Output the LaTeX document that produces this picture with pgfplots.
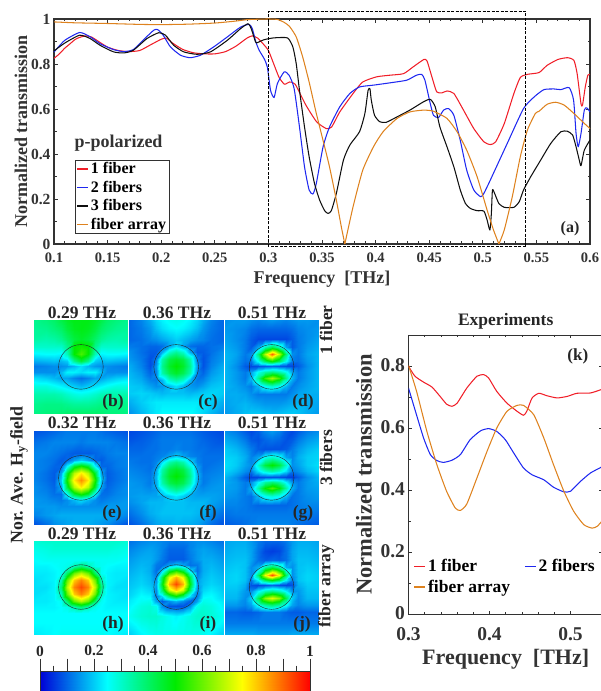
\documentclass[border=0pt]{standalone}
\usepackage{fontspec}
\setmainfont{Liberation Serif}
\usepackage{pgfplots}
\pgfplotsset{compat=1.18}
\definecolor{cRed}{RGB}{240,30,40}
\definecolor{cBlue}{RGB}{30,40,240}
\definecolor{cBlk}{RGB}{15,15,15}
\definecolor{cOr}{RGB}{222,130,30}
\definecolor{cAx}{RGB}{50,50,50}
\pgfplotsset{
 colormap={fieldjet}{rgb255(0)=(0,0,215) rgb255(25)=(0,255,255) rgb255(50)=(0,235,0) rgb255(75)=(255,255,0) rgb255(100)=(255,0,0)},
 lineplot/.style={line width=1.05pt,smooth,tension=0.35,no marks,line join=round},
 leg/.style={legend image code/.code={\path[draw=#1,line width=1.5pt] (0pt,0pt) -- (11pt,0pt);}},
}
\newcommand{\fs}[1]{\fontsize{#1}{#1}\selectfont\bfseries}
% x pos, y pos, circle centre y (axis units), row positions, values
\newcommand{\panel}[5]{%
\begin{axis}[at={(#1pt,#2pt)},anchor=south west,scale only axis,width=93.8pt,height=93.6pt,
 xmin=0,xmax=12,ymin=0,ymax=12,hide axis,colormap name=fieldjet,point meta min=0,point meta max=100,clip=true]
\addplot[surf,shader=interp,mesh/cols=13,point meta=explicit,
 x filter/.code={\edef\pgfmathresult{\ifcase\numexpr\coordindex-13*((\coordindex-6)/13)\relax 0\or 1.5\or 2.6\or 3.4\or 4.2\or 5.1\or 6\or 6.9\or 7.8\or 8.6\or 9.4\or 10.5\or 12\fi}},
 y filter/.code={\edef\pgfmathresult{\ifcase\numexpr(\coordindex-6)/13\relax #4\fi}}]
 table[row sep=\\,header=false,x index=0,y index=0,meta index=0]{#5};
\draw[black!85,line width=0.4pt] (axis cs:6,#3) circle [radius=22.3pt];
\end{axis}}
\begin{document}
\begin{tikzpicture}[x=1pt,y=1pt]
\useasboundingbox (0,0) rectangle (601,691);
\clip (0,0) rectangle (601,691);
% ---------- (a)
\begin{axis}[at={(54pt,447pt)},anchor=south west,scale only axis,width=536pt,height=225pt,
 xmin=0.1,xmax=0.6,ymin=0,ymax=1,clip=false,
 xtick={0.1,0.15,0.2,0.25,0.3,0.35,0.4,0.45,0.5,0.55,0.6},
 xticklabels={0.1,0.15,0.2,0.25,0.3,0.35,0.4,0.45,0.5,0.55,0.6},
 ytick={0,0.2,0.4,0.6,0.8,1},yticklabels={0,0.2,0.4,0.6,0.8,1},
 minor x tick num=4,minor y tick num=1,tick align=inside,
 major tick length=4pt,minor tick length=2.5pt,
 tick style={cAx,line width=0.7pt},axis line style={cAx,line width=1.1pt},
 xticklabel style={font=\fs{14.5},text=black!80,yshift=-5pt},
 yticklabel style={font=\fs{15.5},text=black!80},
 xlabel={Frequency\ \ [THz]},ylabel={Normalized transmission},
 xlabel style={font=\fs{18},text=black!80,yshift=-2pt},
 ylabel style={font=\fs{18},text=black!80,yshift=-3pt},
 legend style={at={(0.0392,0.0444)},anchor=south west,draw=cAx,line width=0.9pt,font=\fs{16},
   inner xsep=1pt,inner ysep=0.5pt,row sep=1.8pt},
 legend cell align=left]
\addplot[lineplot,cRed,leg=cRed] coordinates {(0.1,.825)(0.105,.845)(0.11,.87)(0.115,.89)(0.12,.91)(0.125,.92)(0.13,.925)(0.135,.92)(0.14,.905)(0.15,.875)(0.16,.86)(0.17,.855)(0.18,.86)(0.19,.885)(0.2,.91)(0.205,.915)(0.21,.895)(0.22,.865)(0.23,.85)(0.24,.845)(0.25,.845)(0.26,.855)(0.27,.88)(0.28,.915)(0.285,.925)(0.29,.915)(0.295,.89)(0.3,.86)(0.305,.80)(0.31,.74)(0.315,.71)(0.3197,.72)(0.325,.71)(0.335,.617)(0.345,.543)(0.354,.513)(0.359,.52)(0.3666,.587)(0.379,.669)(0.388,.72)(0.401,.743)(0.413,.75)(0.426,.757)(0.435,.787)(0.445,.82)(0.448,.813)(0.4525,.743)(0.457,.676)(0.462,.672)(0.4666,.68)(0.473,.669)(0.482,.595)(0.4916,.513)(0.501,.454)(0.507,.442)(0.512,.454)(0.52,.535)(0.529,.669)(0.535,.74)(0.5416,.754)(0.5525,.762)(0.56,.794)(0.57,.82)(0.579,.828)(0.585,.816)(0.588,.757)(0.5916,.624)(0.593,.617)(0.5956,.698)(0.598,.75)(0.6,.754)};
\addlegendentry{1 fiber}
\addplot[lineplot,cBlue,leg=cBlue] coordinates {(0.1,.853)(0.11,.905)(0.124,.94)(0.134,.92)(0.143,.89)(0.1555,.864)(0.165,.855)(0.174,.864)(0.1836,.908)(0.193,.95)(0.1967,.953)(0.202,.927)(0.2086,.876)(0.218,.839)(0.227,.828)(0.2366,.839)(0.249,.876)(0.2616,.92)(0.274,.964)(0.282,.976)(0.285,.957)(0.2883,.898)(0.2914,.861)(0.296,.824)(0.299,.787)(0.302,.683)(0.3053,.651)(0.3084,.713)(0.3147,.765)(0.3193,.75)(0.324,.691)(0.329,.52)(0.3337,.343)(0.338,.24)(0.3416,.222)(0.3447,.269)(0.351,.432)(0.357,.52)(0.3666,.61)(0.376,.669)(0.385,.698)(0.398,.706)(0.413,.716)(0.429,.728)(0.438,.75)(0.443,.754)(0.446,.728)(0.451,.624)(0.454,.572)(0.4587,.562)(0.4634,.595)(0.468,.602)(0.473,.572)(0.479,.46)(0.485,.328)(0.4916,.24)(0.498,.21)(0.501,.225)(0.507,.284)(0.5228,.447)(0.538,.602)(0.548,.654)(0.557,.686)(0.5666,.689)(0.5728,.686)(0.5806,.695)(0.5847,.639)(0.587,.491)(0.589,.432)(0.5916,.491)(0.5947,.595)(0.597,.605)(0.6,.587)};
\addlegendentry{2 fibers}
\addplot[lineplot,cBlk,leg=cBlk] coordinates {(0.1,.858)(0.11,.893)(0.124,.928)(0.1337,.913)(0.143,.883)(0.1555,.854)(0.165,.849)(0.174,.861)(0.1867,.913)(0.1977,.939)(0.204,.928)(0.2117,.883)(0.221,.854)(0.2335,.843)(0.246,.854)(0.2616,.905)(0.274,.957)(0.281,.979)(0.284,.957)(0.288,.898)(0.2897,.895)(0.296,.908)(0.305,.916)(0.3178,.916)(0.3228,.876)(0.326,.80)(0.329,.683)(0.3337,.52)(0.338,.388)(0.343,.269)(0.3478,.195)(0.3525,.148)(0.3556,.136)(0.3587,.148)(0.3634,.225)(0.37,.373)(0.376,.44)(0.385,.499)(0.39,.58)(0.393,.683)(0.3947,.69)(0.396,.639)(0.399,.572)(0.404,.543)(0.41,.541)(0.42,.565)(0.432,.595)(0.4447,.632)(0.451,.643)(0.4556,.61)(0.46,.52)(0.4666,.432)(0.473,.343)(0.479,.24)(0.4838,.18)(0.4884,.158)(0.4947,.148)(0.501,.146)(0.504,.107)(0.5066,.062)(0.508,.136)(0.509,.24)(0.511,.225)(0.515,.18)(0.52,.163)(0.529,.163)(0.534,.188)(0.538,.24)(0.5447,.299)(0.554,.373)(0.5634,.447)(0.5728,.499)(0.579,.501)(0.5838,.484)(0.587,.432)(0.59,.373)(0.5916,.348)(0.5947,.417)(0.6,.462)};
\addlegendentry{3 fibers}
\addplot[lineplot,cOr,leg=cOr] coordinates {(0.1,.987)(0.12,.983)(0.15,.98)(0.18,.976)(0.2,.975)(0.225,.977)(0.25,.982)(0.27,.991)(0.28,.997)(0.29,.999)(0.3,1)(0.3084,.998)(0.3147,.985)(0.3197,.967)(0.326,.92)(0.332,.831)(0.338,.72)(0.3447,.58)(0.351,.46)(0.357,.343)(0.3634,.195)(0.368,.077)(0.3713,.0)};
\addlegendentry{fiber array}
\addplot[lineplot,cOr,forget plot] coordinates {(0.3713,0)(0.379,.166)(0.388,.328)(0.398,.432)(0.407,.499)(0.42,.558)(0.432,.587)(0.4447,.595)(0.454,.59)(0.4666,.558)(0.476,.499)(0.485,.417)(0.4947,.299)(0.504,.151)(0.51,.062)(0.515,0)};
\addplot[lineplot,cOr,forget plot] coordinates {(0.515,0)(0.52,.062)(0.5275,.21)(0.535,.388)(0.5416,.506)(0.549,.58)(0.5525,.59)(0.56,.621)(0.568,.63)(0.576,.617)(0.585,.58)(0.5947,.536)(0.6,.513)};
\addplot[black,line width=0.9pt,dash pattern=on 3pt off 1.5pt,forget plot] coordinates {(0.3,-0.013)(0.3,1.035)(0.54,1.035)(0.54,-0.013)(0.3,-0.013)};
\end{axis}
\node[font=\fs{18},text=black!80] at (118.5,548) {p-polarized};
\node[font=\fs{16},text=black!85] at (570,462) {(a)};
% ---------- field maps, row 1
\panel{34}{277.3}{6}{12\or 10.8\or 9.6\or 8.6\or 7.6\or 6.8\or 6.1\or 5.4\or 4.6\or 3.6\or 2.5\or 1.3\or 0}{36\\38\\40\\43\\46\\48\\48\\48\\46\\43\\40\\38\\36\\
35\\36\\38\\40\\44\\47\\48\\47\\44\\40\\38\\36\\35\\
34\\33\\34\\36\\40\\44\\46\\44\\40\\36\\34\\33\\34\\
30\\30\\30\\30\\36\\50\\52\\50\\36\\30\\30\\30\\30\\
24\\25\\25\\24\\32\\50\\57\\50\\32\\24\\25\\25\\24\\
17\\18\\19\\18\\20\\36\\44\\36\\20\\18\\19\\18\\17\\
12\\13\\14\\14\\15\\18\\22\\18\\15\\14\\14\\13\\12\\
14\\14\\14\\18\\24\\24\\22\\24\\24\\18\\14\\14\\14\\
22\\20\\18\\16\\16\\13\\11\\13\\16\\16\\18\\20\\22\\
28\\28\\26\\24\\22\\20\\18\\20\\22\\24\\26\\28\\28\\
33\\33\\33\\32\\30\\28\\27\\28\\30\\32\\33\\33\\33\\
36\\37\\37\\37\\36\\35\\35\\35\\36\\37\\37\\37\\36\\
37\\38\\38\\39\\40\\40\\40\\40\\40\\39\\38\\38\\37\\}
\panel{129.3}{277.3}{6}{12\or 11\or 9.5\or 8.7\or 7.9\or 7\or 6.1\or 5.2\or 4.3\or 3.5\or 2.7\or 1.5\or 0}{10\\13\\17\\21\\24\\26\\27\\26\\24\\21\\17\\13\\10\\
10\\12\\15\\19\\22\\24\\25\\24\\22\\19\\15\\12\\10\\
10\\11\\13\\14\\16\\18\\20\\18\\16\\14\\13\\11\\10\\
12\\11\\10\\10\\11\\16\\22\\16\\11\\10\\10\\11\\12\\
14\\11\\9\\9\\17\\30\\35\\30\\17\\9\\9\\11\\14\\
15\\12\\8\\12\\33\\43\\46\\43\\33\\12\\8\\12\\15\\
17\\13\\8\\15\\36\\46\\50\\46\\36\\15\\8\\13\\17\\
18\\15\\10\\13\\33\\42\\46\\42\\33\\13\\10\\15\\18\\
19\\17\\13\\12\\18\\30\\34\\30\\18\\12\\13\\17\\19\\
20\\19\\16\\14\\15\\18\\22\\18\\15\\14\\16\\19\\20\\
20\\21\\20\\19\\18\\19\\19\\19\\18\\19\\20\\21\\20\\
17\\20\\22\\23\\23\\23\\23\\23\\23\\23\\22\\20\\17\\
14\\18\\21\\23\\25\\25\\25\\25\\25\\23\\21\\18\\14\\}
\panel{224.7}{277.3}{6}{12\or 10.8\or 9.6\or 8.6\or 7.6\or 6.8\or 6.1\or 5.4\or 4.6\or 3.6\or 2.5\or 1.3\or 0}{14\\15\\15\\14\\13\\14\\15\\14\\13\\14\\15\\15\\14\\
15\\14\\13\\11\\10\\10\\10\\10\\10\\11\\13\\14\\15\\
16\\14\\12\\9\\7\\7\\7\\7\\7\\9\\12\\14\\16\\
17\\15\\12\\9\\16\\32\\42\\32\\16\\9\\12\\15\\17\\
18\\16\\12\\14\\38\\68\\90\\68\\38\\14\\12\\16\\18\\
18\\15\\11\\12\\26\\42\\52\\42\\26\\12\\11\\15\\18\\
18\\14\\9\\7\\8\\9\\10\\9\\8\\7\\9\\14\\18\\
18\\15\\12\\16\\27\\34\\38\\34\\27\\16\\12\\15\\18\\
18\\15\\12\\18\\36\\56\\66\\56\\36\\18\\12\\15\\18\\
18\\16\\14\\12\\18\\26\\30\\26\\18\\12\\14\\16\\18\\
17\\17\\16\\14\\12\\12\\12\\12\\12\\14\\16\\17\\17\\
16\\17\\18\\17\\16\\15\\15\\15\\16\\17\\18\\17\\16\\
15\\17\\19\\20\\20\\19\\18\\19\\20\\20\\19\\17\\15\\}
% row 2
\panel{34}{166.7}{5.95}{12\or 10.5\or 9.1\or 8.3\or 7.5\or 6.6\or 5.7\or 4.8\or 3.9\or 3.1\or 2.3\or 1.2\or 0}{8\\9\\10\\11\\12\\12\\12\\12\\12\\11\\10\\9\\8\\
11\\12\\13\\13\\13\\13\\12\\13\\13\\13\\13\\12\\11\\
13\\13\\12\\11\\10\\9\\9\\9\\10\\11\\12\\13\\13\\
13\\12\\11\\9\\10\\16\\20\\16\\10\\9\\11\\12\\13\\
13\\12\\10\\10\\24\\45\\52\\45\\24\\10\\10\\12\\13\\
13\\11\\9\\16\\45\\68\\77\\68\\45\\16\\9\\11\\13\\
13\\11\\9\\20\\52\\77\\86\\77\\52\\20\\9\\11\\13\\
14\\12\\10\\16\\45\\68\\77\\68\\45\\16\\10\\12\\14\\
14\\13\\11\\11\\25\\45\\52\\45\\25\\11\\11\\13\\14\\
15\\14\\13\\12\\14\\18\\22\\18\\14\\12\\13\\14\\15\\
15\\15\\15\\14\\14\\14\\14\\14\\14\\14\\15\\15\\15\\
13\\15\\16\\17\\17\\17\\17\\17\\17\\17\\16\\15\\13\\
8\\11\\14\\15\\16\\17\\17\\17\\16\\15\\14\\11\\8\\}
\panel{129.3}{166.7}{5.95}{12\or 11\or 9.6\or 8.8\or 8\or 7.1\or 6.2\or 5.3\or 4.4\or 3.6\or 2.8\or 1.5\or 0}{7\\8\\9\\10\\11\\11\\11\\11\\11\\10\\9\\8\\7\\
8\\9\\10\\11\\12\\12\\12\\12\\12\\11\\10\\9\\8\\
10\\10\\11\\11\\12\\12\\13\\12\\12\\11\\11\\10\\10\\
11\\11\\11\\12\\13\\16\\20\\16\\13\\12\\11\\11\\11\\
12\\11\\11\\13\\22\\33\\37\\33\\22\\13\\11\\11\\12\\
13\\12\\11\\16\\33\\43\\46\\43\\33\\16\\11\\12\\13\\
14\\13\\12\\18\\36\\46\\50\\46\\36\\18\\12\\13\\14\\
15\\14\\12\\17\\33\\42\\45\\42\\33\\17\\12\\14\\15\\
15\\15\\14\\15\\23\\31\\35\\31\\23\\15\\14\\15\\15\\
15\\16\\16\\16\\17\\20\\23\\20\\17\\16\\16\\16\\15\\
14\\16\\18\\18\\18\\19\\19\\19\\18\\18\\18\\16\\14\\
11\\14\\17\\18\\19\\19\\19\\19\\19\\18\\17\\14\\11\\
8\\11\\14\\16\\17\\17\\18\\17\\17\\16\\14\\11\\8\\}
\panel{224.7}{166.7}{5.95}{12\or 10.8\or 9.6\or 8.6\or 7.6\or 6.8\or 6.1\or 5.4\or 4.6\or 3.6\or 2.5\or 1.3\or 0}{14\\12\\9\\7\\9\\13\\15\\13\\9\\7\\9\\12\\14\\
17\\15\\12\\9\\8\\10\\11\\10\\8\\9\\12\\15\\17\\
20\\18\\15\\12\\9\\8\\8\\8\\9\\12\\15\\18\\20\\
21\\20\\17\\13\\16\\26\\30\\26\\16\\13\\17\\20\\21\\
22\\20\\16\\14\\30\\44\\50\\44\\30\\14\\16\\20\\22\\
21\\18\\14\\12\\22\\30\\34\\30\\22\\12\\14\\18\\21\\
18\\14\\9\\6\\7\\8\\8\\8\\7\\6\\9\\14\\18\\
17\\15\\12\\14\\24\\34\\38\\34\\24\\14\\12\\15\\17\\
16\\15\\12\\17\\34\\50\\58\\50\\34\\17\\12\\15\\16\\
15\\14\\12\\11\\18\\26\\29\\26\\18\\11\\12\\14\\15\\
13\\13\\12\\11\\10\\10\\10\\10\\10\\11\\12\\13\\13\\
11\\12\\12\\12\\12\\12\\12\\12\\12\\12\\12\\12\\11\\
9\\10\\11\\12\\13\\13\\13\\13\\13\\12\\11\\10\\9\\}
% row 3
\panel{34}{56}{6.15}{12\or 11\or 9.6\or 8.8\or 8\or 7.1\or 6.2\or 5.3\or 4.4\or 3.6\or 2.8\or 1.5\or 0}{29\\30\\30\\30\\30\\30\\30\\30\\30\\30\\30\\30\\29\\
27\\28\\29\\29\\29\\29\\29\\29\\29\\29\\29\\28\\27\\
25\\26\\26\\26\\26\\26\\26\\26\\26\\26\\26\\26\\25\\
24\\24\\25\\26\\27\\32\\38\\32\\27\\26\\25\\24\\24\\
23\\23\\24\\26\\40\\60\\68\\60\\40\\26\\24\\23\\23\\
22\\23\\24\\32\\60\\80\\87\\80\\60\\32\\24\\23\\22\\
22\\22\\24\\38\\68\\87\\93\\87\\68\\38\\24\\22\\22\\
22\\23\\24\\32\\60\\80\\87\\80\\60\\32\\24\\23\\22\\
23\\23\\24\\26\\40\\60\\68\\60\\40\\26\\24\\23\\23\\
24\\24\\24\\25\\27\\32\\38\\32\\27\\25\\24\\24\\24\\
25\\25\\25\\25\\25\\25\\25\\25\\25\\25\\25\\25\\25\\
25\\25\\25\\25\\25\\25\\25\\25\\25\\25\\25\\25\\25\\
23\\24\\25\\26\\26\\26\\26\\26\\26\\26\\25\\24\\23\\}
\panel{129.3}{56}{6.15}{12\or 11\or 9.8\or 9\or 8.2\or 7.4\or 6.6\or 5.8\or 5\or 4.3\or 3.7\or 2.5\or 0}{11\\13\\14\\14\\13\\12\\12\\12\\13\\14\\14\\13\\11\\
13\\15\\16\\15\\13\\10\\10\\10\\13\\15\\16\\15\\13\\
15\\17\\17\\15\\12\\9\\9\\9\\12\\15\\17\\17\\15\\
16\\18\\17\\12\\11\\16\\20\\16\\11\\12\\17\\18\\16\\
17\\19\\17\\11\\22\\46\\55\\46\\22\\11\\17\\19\\17\\
18\\20\\18\\13\\42\\72\\82\\72\\42\\13\\18\\20\\18\\
19\\21\\19\\16\\48\\82\\93\\82\\48\\16\\19\\21\\19\\
20\\23\\21\\14\\40\\70\\80\\70\\40\\14\\21\\23\\20\\
21\\25\\24\\12\\22\\40\\50\\40\\22\\12\\24\\25\\21\\
23\\26\\27\\16\\9\\14\\18\\14\\9\\16\\27\\26\\23\\
24\\28\\29\\27\\14\\8\\8\\8\\14\\27\\29\\28\\24\\
26\\29\\30\\30\\28\\26\\24\\26\\28\\30\\30\\29\\26\\
20\\24\\26\\27\\27\\27\\27\\27\\27\\27\\26\\24\\20\\}
\panel{224.7}{56}{6.15}{12\or 10.8\or 9.6\or 8.7\or 7.7\or 7\or 6.4\or 5.7\or 4.8\or 3.9\or 3\or 1.6\or 0}{16\\17\\17\\15\\12\\10\\10\\10\\12\\15\\17\\17\\16\\
17\\18\\18\\16\\11\\7\\6\\7\\11\\16\\18\\18\\17\\
18\\19\\19\\16\\11\\9\\10\\9\\11\\16\\19\\19\\18\\
19\\20\\19\\14\\17\\34\\42\\34\\17\\14\\19\\20\\19\\
20\\21\\19\\14\\40\\74\\92\\74\\40\\14\\19\\21\\20\\
20\\21\\19\\12\\24\\42\\50\\42\\24\\12\\19\\21\\20\\
20\\20\\17\\8\\7\\8\\10\\8\\7\\8\\17\\20\\20\\
19\\19\\15\\14\\24\\32\\36\\32\\24\\14\\15\\19\\19\\
18\\18\\14\\20\\42\\64\\72\\64\\42\\20\\14\\18\\18\\
15\\15\\13\\16\\26\\34\\38\\34\\26\\16\\13\\15\\15\\
10\\10\\9\\9\\10\\12\\12\\12\\10\\9\\9\\10\\10\\
12\\12\\12\\12\\12\\12\\12\\12\\12\\12\\12\\12\\12\\
17\\17\\17\\17\\16\\16\\16\\16\\16\\17\\17\\17\\17\\}
% panel titles and letters
\foreach \xx/\yy/\tt in {82/378/0.29,177/378/0.36,272/378/0.51,
  82/268/0.32,177/268/0.36,272/268/0.51,
  82/157/0.29,177/157/0.36,272/157/0.51}
  \node[font=\fs{17.5},text=black!85] at (\xx,\yy) {\tt\ THz};
\foreach \xx/\yy/\tt in {113/289/b,208/289/c,303/289/d,112/178/e,208/178/f,303/178/g,113/67/h,208/67/i,302/67/j}
  \node[font=\fs{17.5},text=black!85] at (\xx,\yy) {(\tt)};
\node[font=\fs{17.5},text=black!85,rotate=90] at (326,361) {1 fiber};
\node[font=\fs{17.5},text=black!85,rotate=90] at (326,233) {3 fibers};
\node[font=\fs{17.5},text=black!85,rotate=90] at (326,105) {fiber array};
\node[font=\fs{17.8},text=black!85,rotate=90] at (19,216) {Nor. Ave. H\textsubscript{y}-field};
% ---------- colour bar
\begin{axis}[at={(40pt,-10pt)},anchor=south west,scale only axis,width=270pt,height=29.3pt,
 xmin=0,xmax=100,ymin=0,ymax=1,colormap name=fieldjet,point meta min=0,point meta max=100,
 axis on top,ytick=\empty,axis x line*=top,tick align=outside,
 xtick={0,10,20,30,40,50,60,70,80,90,100},
 xticklabels={0,,0.2,,0.4,,0.6,,0.8,,1},minor x tick num=1,
 major tick length=13pt,minor tick length=6pt,
 tick style={cAx,line width=0.6pt},axis line style={cAx,line width=0.8pt},
 xticklabel style={font=\fs{15.5},text=black!85,yshift=-1pt}]
\addplot[surf,shader=interp,mesh/cols=5,point meta=explicit] table[meta index=2,header=false]{
0 0 0
25 0 25
50 0 50
75 0 75
100 0 100
0 1 0
25 1 25
50 1 50
75 1 75
100 1 100
};
\end{axis}
% ---------- (k)
\begin{axis}[at={(408.5pt,77pt)},anchor=south west,scale only axis,width=194.4pt,height=279pt,
 xmin=0.3,xmax=0.54,ymin=0,ymax=0.9,
 xtick={0.3,0.4,0.5},xticklabels={0.3,0.4,0.5},
 ytick={0,0.2,0.4,0.6,0.8},yticklabels={0,0.2,0.4,0.6,0.8},
 minor x tick num=4,minor y tick num=1,tick align=inside,
 major tick length=3.5pt,minor tick length=2pt,
 tick style={cAx,line width=0.6pt},axis line style={cAx,line width=0.9pt},
 xticklabel style={font=\fs{19.5},text=black!80,yshift=-10pt},
 yticklabel style={font=\fs{19.5},text=black!80,yshift=1pt},
 xlabel={Frequency\ \ [THz]},ylabel={Normalized transmission},
 xlabel style={font=\fs{22},text=black!80,yshift=-2pt},
 ylabel style={font=\fs{22.5},text=black!80,yshift=2pt},
 title={Experiments},title style={font=\fs{17.5},text=black!85,yshift=-4pt},
 legend columns=2,
 legend style={at={(0.02,0.06)},anchor=south west,draw=none,fill=none,font=\fs{17.5},
   /tikz/column 2/.style={column sep=12pt},inner xsep=1pt,inner ysep=1pt,row sep=3pt},
 legend cell align=left]
\addplot[lineplot,cRed,leg=cRed] coordinates {(0.3,.799)(0.308,.767)(0.3186,.748)(0.329,.732)(0.339,.702)(0.347,.677)(0.3536,.67)(0.36,.68)(0.372,.729)(0.3845,.767)(0.393,.772)(0.399,.761)(0.409,.718)(0.4216,.68)(0.434,.654)(0.442,.641)(0.446,.654)(0.4526,.697)(0.461,.712)(0.471,.704)(0.4835,.697)(0.496,.702)(0.508,.712)(0.5247,.713)(0.538,.724)(0.54,.726)};
\addlegendentry{1 fiber}
\addplot[lineplot,cBlue,leg=cBlue] coordinates {(0.3,.729)(0.308,.659)(0.3186,.568)(0.327,.514)(0.335,.495)(0.343,.489)(0.3536,.496)(0.364,.514)(0.376,.562)(0.389,.591)(0.399,.598)(0.409,.589)(0.4196,.562)(0.43,.519)(0.442,.471)(0.4526,.449)(0.467,.433)(0.479,.409)(0.4918,.394)(0.5,.396)(0.5124,.428)(0.5247,.455)(0.5383,.474)(0.54,.476)};
\addlegendentry{2 fibers}
\addplot[lineplot,cOr,leg=cOr] coordinates {(0.3,.802)(0.31,.718)(0.3227,.589)(0.335,.482)(0.347,.396)(0.3577,.342)(0.364,.334)(0.372,.355)(0.3845,.439)(0.397,.525)(0.409,.6)(0.4216,.654)(0.434,.673)(0.442,.673)(0.4546,.643)(0.467,.568)(0.479,.482)(0.4918,.396)(0.504,.331)(0.5165,.288)(0.5268,.277)(0.533,.283)(0.539,.3)(0.54,.303)};
\addlegendentry{fiber array}
\node[font=\fs{17},text=black!85] at (axis cs:0.509,0.832) {(k)};
\end{axis}
\end{tikzpicture}
\end{document}
